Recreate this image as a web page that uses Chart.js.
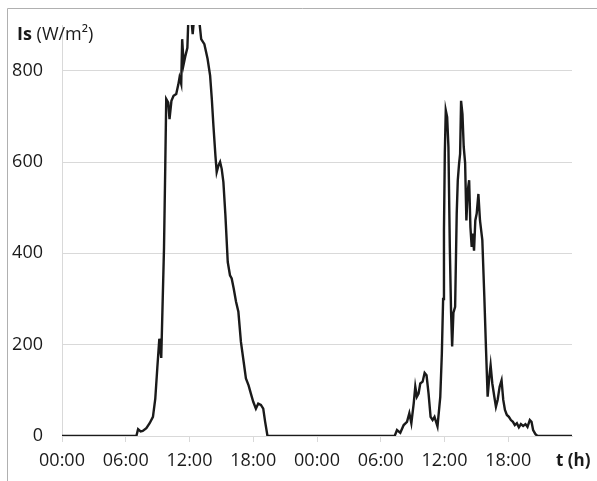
<!DOCTYPE html>
<html>
<head>
<meta charset="utf-8">
<script src="https://cdn.jsdelivr.net/npm/chart.js@4/dist/chart.umd.min.js"></script>
<style>
  html, body { margin: 0; padding: 0; background: #fff; }
  #wrap { position: relative; width: 597px; height: 481px; }
</style>
</head>
<body>
<div id="wrap"><canvas id="grafico" width="597" height="481"></canvas></div>
<script>
// --- DADOS ---
// tempo em horas desde 00:00 do primeiro dia
const tHours = [
  0, 7.0, 7.16, 7.4, 7.6, 7.94, 8.25, 8.56, 8.78, 8.97, 9.16, 9.28, 9.34, 9.6, 9.72, 9.81,
  10.0, 10.12, 10.3, 10.5, 10.75, 10.95, 11.06, 11.22, 11.31, 11.45, 11.62, 11.8, 11.9,
  12.15, 12.3, 12.45, 12.94, 13.1, 13.4, 13.7, 13.94, 14.1, 14.25, 14.44, 14.56, 14.72,
  14.88, 15.03, 15.19, 15.38, 15.6, 15.81, 15.97, 16.16, 16.38, 16.6, 16.84, 17.1, 17.31,
  17.56, 17.81, 18.0, 18.25, 18.47, 18.72, 18.94, 19.12, 19.34,
  31.31, 31.53, 31.84, 32.16, 32.47, 32.69, 32.88, 33.1, 33.25, 33.4, 33.56, 33.72, 33.94,
  34.13, 34.31, 34.5, 34.69, 34.88, 35.06, 35.34, 35.6, 35.75, 35.87, 35.95, 36.03, 36.12,
  36.25, 36.37, 36.5, 36.62, 36.72, 36.84, 37.0, 37.15, 37.25, 37.37, 37.47, 37.56, 37.69,
  37.81, 37.94, 38.06, 38.19, 38.32, 38.44, 38.56, 38.65, 38.78, 38.9, 39.03, 39.19, 39.34,
  39.56, 39.75, 39.9, 40.06, 40.22, 40.34, 40.5, 40.69, 40.84, 41.0, 41.19, 41.37, 41.53,
  41.69, 41.87, 42.06, 42.25, 42.44, 42.62, 42.81, 43.0, 43.19, 43.4, 43.62, 43.81, 44.03,
  44.19, 44.34, 44.56, 44.75, 48
];
// irradiancia solar Is (W/m2)
const irradiancia = [
  0, 0, 15, 10, 11, 17, 28, 42, 82, 149, 213, 184, 171, 411, 592, 738,
  730, 694, 734, 745, 749, 770, 785, 771, 869, 814, 833, 850, 920,
  920, 880, 920, 905, 869, 858, 826, 789, 738, 680, 614, 578, 592,
  600, 585, 556, 483, 381, 352, 345, 323, 294, 272, 206, 162, 126,
  111, 90, 75, 60, 71, 68, 60, 31, 0,
  0, 13, 7, 24, 31, 50, 28, 71, 108, 86, 93, 115, 119,
  138, 133, 93, 42, 35, 42, 21, 85, 180, 300, 450, 620, 713,
  698, 633, 414, 270, 196, 270, 283, 487, 560, 596, 618, 734, 705,
  633, 598, 472, 538, 560, 457, 414, 443, 406, 472, 487, 530, 472,
  429, 304, 195, 86, 130, 155, 115, 86, 64, 79, 108, 122, 79,
  57, 46, 42, 35, 31, 24, 28, 19, 26, 22, 26, 20, 35,
  31, 13, 4, 0, 0
];
// marcas dos eixos
const xTicks = [0, 6, 12, 18, 24, 30, 36, 42];
const yTicks = [0, 200, 400, 600, 800];

const TEXTO = '#1a1a1a';
const CINZA = '#d9d9d9';

// moldura e rótulos dos eixos
const moldura = {
  id: 'moldura',
  afterDraw(chart) {
    const ctx = chart.ctx;
    ctx.save();
    ctx.strokeStyle = '#b0b0b0';
    ctx.lineWidth = 1;
    ctx.beginPath();
    ctx.moveTo(7.5, 481);
    ctx.lineTo(7.5, 8.5);
    ctx.lineTo(597, 8.5);
    ctx.stroke();

    ctx.fillStyle = TEXTO;
    ctx.textBaseline = 'alphabetic';
    ctx.textAlign = 'left';
    ctx.font = 'bold 18px "Open Sans"';
    ctx.fillText('Is', 17, 40);
    const w = ctx.measureText('Is').width;
    ctx.font = '18px "Open Sans"';
    ctx.fillText(' (W/m²)', 17 + w, 40);

    ctx.font = 'bold 17px "Open Sans"';
    ctx.fillText('t (h)', 556, 466);
    ctx.restore();
  }
};

const pontos = tHours.map((t, i) => ({ x: t, y: irradiancia[i] }));

new Chart(document.getElementById('grafico').getContext('2d'), {
  type: 'line',
  data: {
    datasets: [{
      data: pontos,
      borderColor: '#1a1a1a',
      borderWidth: 2.4,
      pointRadius: 0,
      tension: 0,
      fill: false
    }]
  },
  options: {
    responsive: false,
    animation: false,
    layout: { padding: { top: 25, right: 25, left: 0, bottom: 0 } },
    plugins: { legend: { display: false }, tooltip: { enabled: false } },
    scales: {
      x: {
        type: 'linear',
        min: 0,
        max: 48,
        afterBuildTicks: axis => { axis.ticks = xTicks.map(v => ({ value: v })); },
        afterFit: axis => { axis.height = 45; },
        grid: { drawOnChartArea: false, drawTicks: true, tickLength: 6, color: CINZA },
        border: { display: true, color: CINZA },
        ticks: {
          autoSkip: false,
          maxRotation: 0,
          padding: 8,
          color: TEXTO,
          font: { family: '"Open Sans"', size: 18 },
          callback: v => String(v % 24).padStart(2, '0') + ':00'
        }
      },
      y: {
        min: 0,
        max: 900,
        afterBuildTicks: axis => { axis.ticks = yTicks.map(v => ({ value: v })); },
        afterFit: axis => {
          axis.width = 62;
          axis.paddingTop = 0;
          axis.paddingBottom = 0;
        },
        grid: { drawTicks: false, color: CINZA },
        border: { display: true, color: CINZA },
        ticks: {
          padding: 19,
          color: TEXTO,
          font: { family: '"Open Sans"', size: 18 }
        }
      }
    }
  },
  plugins: [moldura]
});
</script>
</body>
</html>
